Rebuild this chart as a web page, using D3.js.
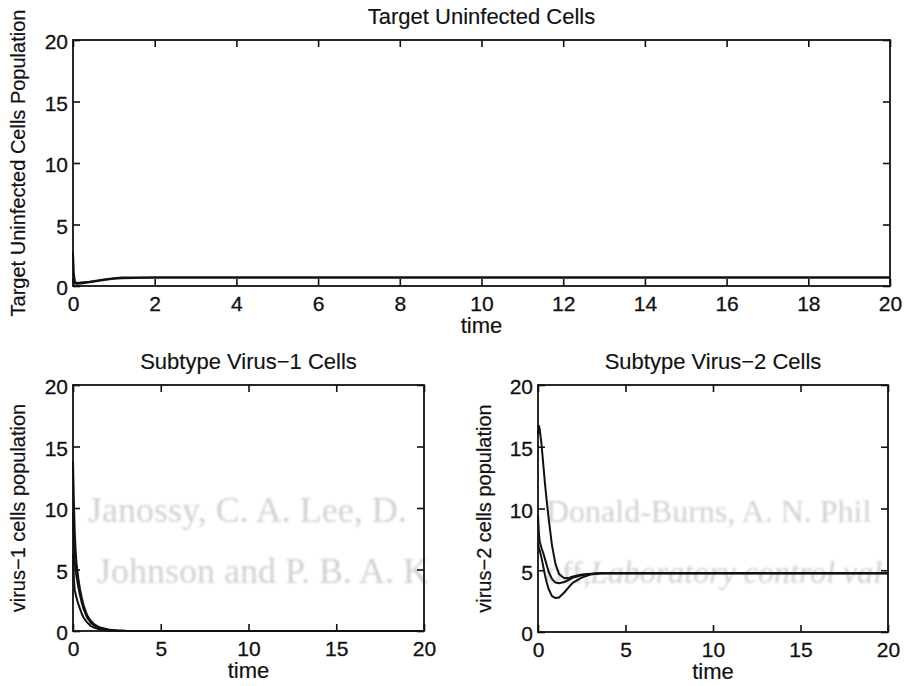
<!DOCTYPE html>
<html lang="en">
<head>
<meta charset="utf-8">
<title>Target Uninfected Cells / Subtype Virus Cells</title>
<style>
  body { margin: 0; background: #fff; }
  svg text { font-family: "Liberation Sans", Arial, Helvetica, sans-serif; fill: #111; }
  svg text.ghost { font-family: "Liberation Serif", "Times New Roman", serif; fill: #d0d0d0; stroke: none; }
</style>
</head>
<body>
<script src="https://cdn.jsdelivr.net/npm/d3@7/dist/d3.min.js"></script>
<script>
// time grids and populations
const targetTime = [0, 0.02, 0.05, 0.1, 0.2, 0.4, 0.6, 0.8, 1.0, 1.2, 1.5, 2.0, 2.2, 3, 20];
const targetA = [2.8, 1.0, 0.3, 0.25, 0.28, 0.35, 0.45, 0.55, 0.64, 0.69, 0.7, 0.7, 0.7, 0.7, 0.7];
const targetB = [0.6, 0.3, 0.2, 0.18, 0.2, 0.3, 0.4, 0.5, 0.58, 0.63, 0.66, 0.69, 0.7, 0.7, 0.7];

const v1Time = [0, 0.05, 0.1, 0.15, 0.2, 0.3, 0.4, 0.5, 0.6, 0.8, 1.0, 1.2, 1.5, 2.0, 2.5, 3.0, 4.0, 20];
const v1A = [13.8, 10.5, 8.0, 6.5, 5.5, 4.3, 3.4, 2.7, 2.1, 1.3, 0.85, 0.55, 0.3, 0.12, 0.05, 0.02, 0, 0];
const v1B = [9.7, 7.0, 5.6, 4.9, 4.4, 3.6, 2.9, 2.3, 1.8, 1.1, 0.7, 0.45, 0.25, 0.1, 0.04, 0.01, 0, 0];
const v1C = [6.3, 4.2, 3.3, 3.0, 2.7, 2.2, 1.8, 1.4, 1.1, 0.7, 0.42, 0.28, 0.14, 0.05, 0.02, 0, 0, 0];

const v2Time = [0, 0.05, 0.1, 0.2, 0.3, 0.4, 0.5, 0.6, 0.8, 1.0, 1.2, 1.5, 1.8, 2.0, 2.5, 3.0, 3.5, 4.0, 20];
const v2A = [16.0, 16.7, 16.4, 15.2, 13.6, 12.0, 10.6, 9.3, 7.0, 5.5, 4.7, 4.35, 4.4, 4.5, 4.65, 4.72, 4.75, 4.75, 4.75];
const v2B = [9.5, 8.0, 7.3, 6.8, 6.4, 5.9, 5.4, 4.9, 4.3, 4.0, 3.95, 4.05, 4.25, 4.4, 4.6, 4.7, 4.75, 4.75, 4.75];
const v2C = [7.2, 6.8, 6.6, 6.0, 5.3, 4.6, 4.0, 3.5, 2.9, 2.75, 2.8, 3.2, 3.7, 4.0, 4.4, 4.65, 4.73, 4.75, 4.75];

const topXTicks = [0, 2, 4, 6, 8, 10, 12, 14, 16, 18, 20];
const smallXTicks = [0, 5, 10, 15, 20];
const yTicks = [0, 5, 10, 15, 20];

// faint words showing through the scanned page: [text, x, baseline, font size, italic]
const ghostWords = [
  ["Janossy, C. A. Lee, D.", 88, 522, 36, false],
  ["Donald-Burns, A. N. Phil", 546, 522, 32, false],
  ["Johnson and P. B. A. K", 97, 583, 36, false],
  ["off,", 546, 583, 32, false],
  ["Laboratory control val", 590, 583, 32, true]
];

const width = 906, height = 686;

const svg = d3.select("body").append("svg")
    .attr("width", width)
    .attr("height", height);

svg.append("defs").append("filter").attr("id", "soft")
    .append("feGaussianBlur").attr("stdDeviation", 0.9);

// background bleed-through, drawn first
svg.append("g")
    .attr("filter", "url(#soft)")
    .selectAll("text")
    .data(ghostWords)
    .join("text")
    .attr("class", "ghost")
    .attr("x", d => d[1])
    .attr("y", d => d[2])
    .attr("font-size", d => d[3])
    .attr("font-style", d => d[4] ? "italic" : null)
    .text(d => d[0]);

function panel(cfg) {
    const x = d3.scaleLinear().domain([0, 20]).range([cfg.left, cfg.right]);
    const y = d3.scaleLinear().domain([0, 20]).range([cfg.bottom, cfg.top]);
    const g = svg.append("g");

    const line = d3.line().x(d => x(d[0])).y(d => y(d[1]));
    g.selectAll("path.curve")
        .data(cfg.series)
        .join("path")
        .attr("class", "curve")
        .attr("fill", "none")
        .attr("stroke", "#111")
        .attr("stroke-width", 2)
        .attr("stroke-linejoin", "round")
        .attr("d", s => line(cfg.time.map((t, i) => [t, s[i]])));

    // ticks on all four sides, pointing in (MATLAB box)
    const tl = 7;
    g.append("g")
        .attr("transform", `translate(0,${cfg.bottom})`)
        .call(d3.axisBottom(x).tickValues(cfg.xTicks).tickSize(-tl).tickSizeOuter(0).tickPadding(6))
        .call(ax => ax.selectAll("text").attr("font-size", 21).attr("dy", "0.9em"));
    g.append("g")
        .attr("transform", `translate(0,${cfg.top})`)
        .call(d3.axisTop(x).tickValues(cfg.xTicks).tickSize(-tl).tickSizeOuter(0).tickFormat(""));
    g.append("g")
        .attr("transform", `translate(${cfg.left},0)`)
        .call(d3.axisLeft(y).tickValues(yTicks).tickSize(-tl).tickSizeOuter(0).tickPadding(5))
        .call(ax => ax.selectAll("text").attr("font-size", 21).attr("dy", "0.42em"));
    g.append("g")
        .attr("transform", `translate(${cfg.right},0)`)
        .call(d3.axisRight(y).tickValues(yTicks).tickSize(-tl).tickSizeOuter(0).tickFormat(""));

    g.selectAll(".domain").remove();
    g.selectAll(".tick line").attr("stroke", "#111").attr("stroke-width", 1.6);
    g.selectAll(".tick text").attr("fill", "#111").style("font-family", "inherit")
        .attr("stroke", "#111").attr("stroke-width", 0.3);

    g.append("rect")
        .attr("x", cfg.left).attr("y", cfg.top)
        .attr("width", cfg.right - cfg.left).attr("height", cfg.bottom - cfg.top)
        .attr("fill", "none").attr("stroke", "#111").attr("stroke-width", 1.8);

    const cx = (cfg.left + cfg.right) / 2;
    g.append("text")
        .attr("x", cx).attr("y", cfg.top - 16)
        .attr("text-anchor", "middle").attr("font-size", 22)
        .attr("stroke", "#111").attr("stroke-width", 0.15)
        .text(cfg.title);
    g.append("text")
        .attr("x", cx).attr("y", cfg.bottom + 47)
        .attr("text-anchor", "middle").attr("font-size", 22)
        .attr("stroke", "#111").attr("stroke-width", 0.2)
        .text("time");
    g.append("text")
        .attr("transform", `translate(${cfg.ylabelX},${(cfg.top + cfg.bottom) / 2}) rotate(-90)`)
        .attr("text-anchor", "middle").attr("dy", "0.35em").attr("font-size", 20)
        .attr("stroke", "#111").attr("stroke-width", 0.2)
        .text(cfg.ylabel);
}

panel({
    left: 73, right: 890, top: 40, bottom: 286,
    xTicks: topXTicks, time: targetTime, series: [targetA, targetB],
    title: "Target Uninfected Cells", ylabel: "Target Uninfected Cells Population", ylabelX: 18
});
panel({
    left: 73, right: 424, top: 385, bottom: 631,
    xTicks: smallXTicks, time: v1Time, series: [v1A, v1B, v1C],
    title: "Subtype Virus\u22121 Cells", ylabel: "virus\u22121 cells population", ylabelX: 18
});
panel({
    left: 538, right: 888, top: 385, bottom: 632,
    xTicks: smallXTicks, time: v2Time, series: [v2A, v2B, v2C],
    title: "Subtype Virus\u22122 Cells", ylabel: "virus\u22122 cells population", ylabelX: 484
});
</script>
</body>
</html>
